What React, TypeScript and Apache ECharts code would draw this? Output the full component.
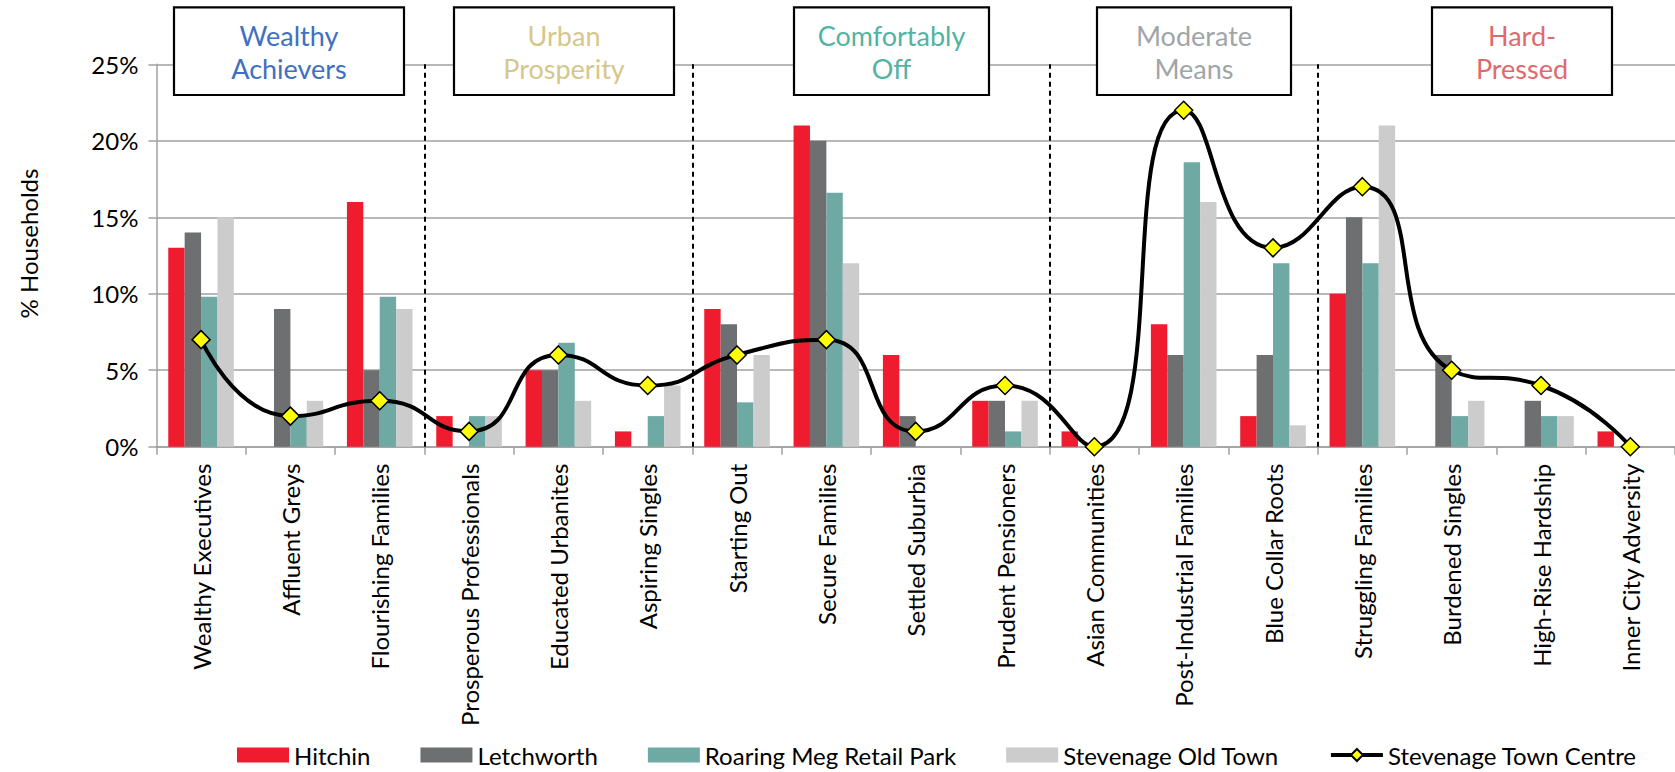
import React, { useEffect, useRef } from "react";
import * as echarts from "echarts";

const categories = [
  "Wealthy Executives",
  "Affluent Greys",
  "Flourishing Families",
  "Prosperous Professionals",
  "Educated Urbanites",
  "Aspiring Singles",
  "Starting Out",
  "Secure Families",
  "Settled Suburbia",
  "Prudent Pensioners",
  "Asian Communities",
  "Post-Industrial Families",
  "Blue Collar Roots",
  "Struggling Families",
  "Burdened Singles",
  "High-Rise Hardship",
  "Inner City Adversity",
];

const hitchin = [13, 0, 16, 2, 5, 1, 9, 21, 6, 3, 1, 8, 2, 10, 0, 0, 1];
const letchworth = [14, 9, 5, 0, 5, 0, 8, 20, 2, 3, 0, 6, 6, 15, 6, 3, 0];
const roaringMeg = [9.8, 2, 9.8, 2, 6.8, 2, 2.9, 16.6, 0, 1, 0, 18.6, 12, 12, 2, 2, 0];
const stevenageOldTown = [15, 3, 9, 2, 3, 4, 6, 12, 0, 3, 0, 16, 1.4, 21, 3, 2, 0];
const stevenageTownCentre = [7, 2, 3, 1, 6, 4, 6, 7, 1, 4, 0, 22, 13, 17, 5, 4, 0];

const seriesNames = [
  "Hitchin",
  "Letchworth",
  "Roaring Meg Retail Park",
  "Stevenage Old Town",
  "Stevenage Town Centre",
];

const groupNames = [
  "Wealthy\nAchievers",
  "Urban\nProsperity",
  "Comfortably\nOff",
  "Moderate\nMeans",
  "Hard-\nPressed",
];
const groupBoundaries = [3, 6, 10, 13];

const yTicks = { min: 0, max: 25, interval: 5 };

// layout / style (not data)
const barColors = ["#EE1C2E", "#6E6F71", "#6FA9A4", "#CCCCCC"];
const groupColors = ["#4070C0", "#D5C78C", "#52B3A2", "#A0A5A8", "#DF6A6E"];
const boxLayout = [
  { x: 174, w: 230 },
  { x: 454, w: 220 },
  { x: 794, w: 195 },
  { x: 1097, w: 194 },
  { x: 1432, w: 180 },
];
const FONT = "Lato, 'Open Sans', sans-serif";

export default function App() {
  const ref = useRef<HTMLDivElement>(null);

  useEffect(() => {
    document.body.style.margin = "0";
    if (!ref.current) return;
    const chart = echarts.init(ref.current, undefined, { renderer: "svg" });

    const barData = [hitchin, letchworth, roaringMeg, stevenageOldTown];

    const gridLeft = 156.4;
    const gridTop = 64.3;
    const gridHeight = 446.7 - 64.3;
    const gridWidth = 90 * categories.length;

    const option: any = {
      animation: false,
      backgroundColor: "#ffffff",
      textStyle: { fontFamily: FONT },
      grid: {
        left: gridLeft,
        top: gridTop,
        width: gridWidth,
        height: gridHeight,
        containLabel: false,
      },
      legend: {
        left: 237,
        top: 742,
        padding: 0,
        itemWidth: 52,
        itemHeight: 15,
        itemGap: 50,
        textStyle: { fontSize: 24, lineHeight: 26, color: "#000", fontFamily: FONT },
        data: [
          { name: seriesNames[0], icon: "rect" },
          { name: seriesNames[1], icon: "rect" },
          { name: seriesNames[2], icon: "rect" },
          { name: seriesNames[3], icon: "rect" },
          { name: seriesNames[4], lineStyle: { width: 4, color: "#000" } },
        ],
      },
      xAxis: [
        {
          type: "category",
          data: categories,
          boundaryGap: true,
          axisLine: { lineStyle: { color: "#A0A0A0", width: 1.5 } },
          axisTick: {
            show: true,
            interval: 0,
            length: 8,
            lineStyle: { color: "#A0A0A0", width: 1.5 },
          },
          axisLabel: {
            interval: 0,
            rotate: 90,
            margin: 17,
            fontSize: 24,
            color: "#000",
            fontFamily: FONT,
          },
          splitLine: { show: false },
        },
        {
          type: "value",
          min: 0,
          max: categories.length,
          show: false,
          splitLine: { show: false },
        },
      ],
      yAxis: {
        type: "value",
        min: yTicks.min,
        max: yTicks.max,
        interval: yTicks.interval,
        name: "% Households",
        nameLocation: "middle",
        nameRotate: 90,
        nameGap: 116,
        nameTextStyle: {
          fontSize: 24,
          color: "#000",
          fontFamily: FONT,
          padding: [0, 0, 0, 24],
        },
        axisLine: { show: true, lineStyle: { color: "#A0A0A0", width: 1.5 } },
        axisTick: { show: true, length: 8, lineStyle: { color: "#A0A0A0", width: 1.5 } },
        axisLabel: {
          formatter: "{value}%",
          fontSize: 24,
          color: "#000",
          margin: 18,
          fontFamily: FONT,
        },
        splitLine: { show: true, lineStyle: { color: "#A0A0A0", width: 1.5 } },
      },
      series: [
        ...barData.map((d, i) => ({
          name: seriesNames[i],
          type: "bar",
          data: d,
          barWidth: 16.4,
          barGap: "0%",
          itemStyle: { color: barColors[i] },
          z: 2,
        })),
        {
          name: "dividers",
          type: "scatter",
          xAxisIndex: 1,
          data: [],
          silent: true,
          markLine: {
            silent: true,
            symbol: "none",
            label: { show: false },
            lineStyle: { color: "#000", width: 2, type: [5, 4] },
            data: groupBoundaries.map((b) => ({ xAxis: b })),
          },
          z: 3,
        },
        {
          name: seriesNames[4],
          type: "line",
          data: stevenageTownCentre,
          smooth: 0.55,
          symbol: "diamond",
          symbolSize: 18,
          lineStyle: { color: "#000", width: 4 },
          itemStyle: { color: "#FFFF00", borderColor: "#000", borderWidth: 1.5 },
          z: 5,
        },
      ],
      graphic: groupNames.map((g, i) => ({
        type: "group",
        z: 10,
        children: [
          {
            type: "rect",
            shape: { x: boxLayout[i].x, y: 7.3, width: boxLayout[i].w, height: 87.7 },
            style: { fill: "#fff", stroke: "#000", lineWidth: 2.2 },
            z: 10,
          },
          {
            type: "text",
            x: boxLayout[i].x + boxLayout[i].w / 2,
            y: 52,
            z: 11,
            style: {
              text: g,
              fill: groupColors[i],
              font: `27px ${FONT}`,
              fontSize: 27,
              fontFamily: FONT,
              lineHeight: 33,
              align: "center",
              verticalAlign: "middle",
            },
          },
        ],
      })),
    };

    chart.setOption(option);
    return () => chart.dispose();
  }, []);

  return <div ref={ref} style={{ width: 1675, height: 772 }} />;
}
